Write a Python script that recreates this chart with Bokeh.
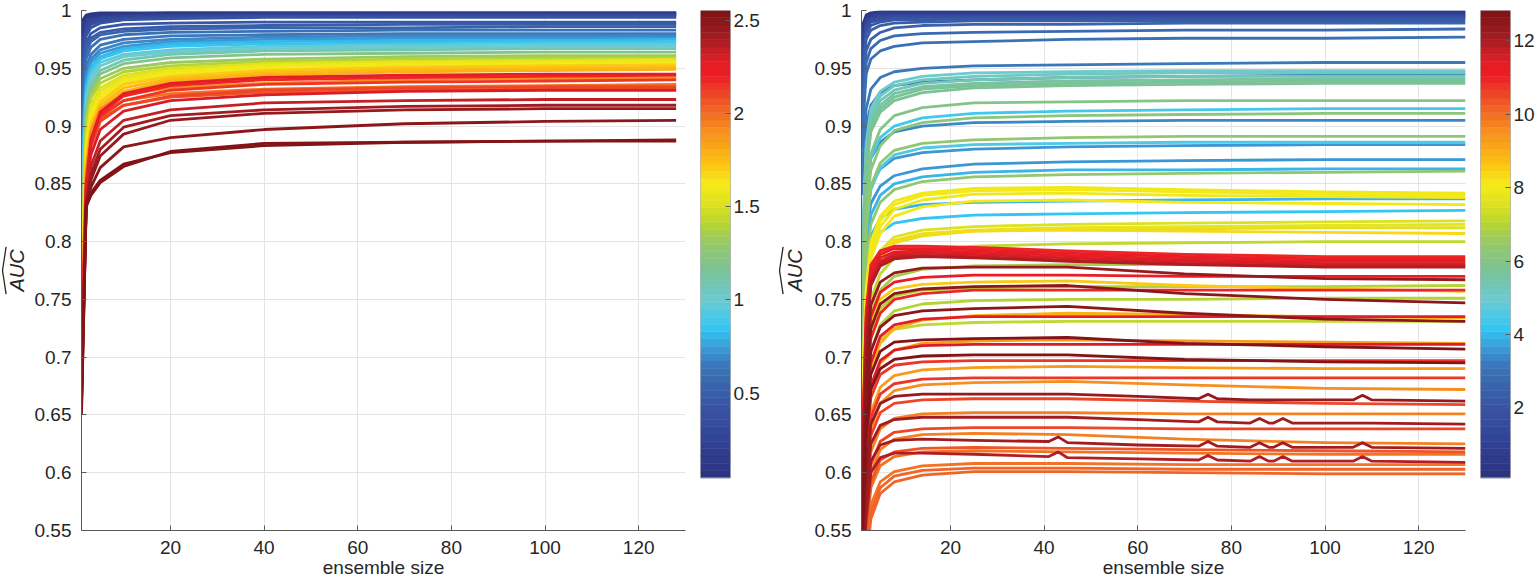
import numpy as np
from bokeh.plotting import figure
from bokeh.models import Range1d, FixedTicker, CustomJSTickFormatter, ColumnDataSource
from bokeh.layouts import row
from bokeh.transform import linear_cmap
from bokeh.core.properties import value
from bokeh.embed import file_html
from bokeh.resources import INLINE

# ---------------- data ----------------
X_TICKS = [20, 40, 60, 80, 100, 120]
Y_TICKS = [0.55, 0.6, 0.65, 0.7, 0.75, 0.8, 0.85, 0.9, 0.95, 1.0]
CB_TICKS_LEFT = [0.5, 1, 1.5, 2, 2.5]
CB_TICKS_RIGHT = [2, 4, 6, 8, 10, 12]
C_RANGE_LEFT = (0.045, 2.553)
C_RANGE_RIGHT = (0.09, 12.83)
Y_LABEL = "AUC"
X_LABEL = "ensemble size"

X_LEFT = [1, 2, 3, 5, 10, 20, 40, 70, 100, 128]
C_LEFT = [0.05, 0.1, 0.15, 0.2, 0.25, 0.3, 0.35, 0.4, 0.45, 0.5, 0.55, 0.6, 0.65,
          0.7, 0.75, 0.8, 0.85, 0.95, 1.0, 1.1, 1.2, 1.3, 1.4,
          1.5, 1.55, 1.6, 1.65, 1.7, 1.75, 1.8,
          1.9, 2.0, 2.05, 2.1, 2.15, 2.2, 2.25, 2.3,
          2.35, 2.4, 2.45, 2.5, 2.53, 2.55]
Y_LEFT = [
    [0.990, 0.996, 0.997, 0.998, 0.998, 0.998, 0.998, 0.998, 0.998, 0.998],
    [0.985, 0.994, 0.996, 0.997, 0.997, 0.998, 0.998, 0.998, 0.998, 0.998],
    [0.980, 0.993, 0.995, 0.996, 0.997, 0.997, 0.997, 0.997, 0.997, 0.997],
    [0.975, 0.990, 0.993, 0.995, 0.996, 0.996, 0.997, 0.997, 0.997, 0.997],
    [0.970, 0.988, 0.992, 0.994, 0.995, 0.996, 0.996, 0.996, 0.996, 0.996],
    [0.965, 0.985, 0.990, 0.993, 0.994, 0.995, 0.995, 0.996, 0.996, 0.996],
    [0.960, 0.982, 0.988, 0.991, 0.993, 0.994, 0.995, 0.995, 0.995, 0.995],
    [0.950, 0.978, 0.985, 0.989, 0.992, 0.993, 0.994, 0.994, 0.994, 0.994],
    [0.940, 0.972, 0.980, 0.985, 0.988, 0.989, 0.990, 0.990, 0.990, 0.990],
    [0.930, 0.968, 0.976, 0.981, 0.984, 0.986, 0.987, 0.988, 0.988, 0.988],
    [0.920, 0.964, 0.973, 0.979, 0.982, 0.984, 0.985, 0.985, 0.986, 0.986],
    [0.900, 0.958, 0.968, 0.975, 0.979, 0.981, 0.982, 0.983, 0.983, 0.983],
    [0.880, 0.950, 0.962, 0.970, 0.975, 0.978, 0.979, 0.980, 0.980, 0.980],
    [0.870, 0.945, 0.958, 0.966, 0.972, 0.975, 0.977, 0.978, 0.978, 0.978],
    [0.860, 0.940, 0.955, 0.963, 0.969, 0.973, 0.975, 0.976, 0.976, 0.976],
    [0.850, 0.935, 0.951, 0.960, 0.967, 0.971, 0.973, 0.974, 0.974, 0.975],
    [0.840, 0.930, 0.948, 0.958, 0.965, 0.969, 0.971, 0.972, 0.973, 0.973],
    [0.830, 0.925, 0.944, 0.955, 0.962, 0.966, 0.969, 0.970, 0.971, 0.971],
    [0.820, 0.920, 0.940, 0.952, 0.960, 0.964, 0.967, 0.968, 0.969, 0.969],
    [0.810, 0.915, 0.936, 0.948, 0.957, 0.962, 0.965, 0.966, 0.967, 0.967],
    [0.800, 0.910, 0.932, 0.945, 0.954, 0.959, 0.962, 0.963, 0.964, 0.964],
    [0.790, 0.905, 0.928, 0.941, 0.950, 0.955, 0.958, 0.960, 0.961, 0.961],
    [0.780, 0.900, 0.924, 0.937, 0.947, 0.952, 0.956, 0.958, 0.959, 0.959],
    [0.770, 0.890, 0.918, 0.933, 0.944, 0.950, 0.954, 0.956, 0.957, 0.958],
    [0.760, 0.885, 0.914, 0.930, 0.942, 0.948, 0.953, 0.955, 0.956, 0.957],
    [0.750, 0.880, 0.910, 0.927, 0.940, 0.947, 0.952, 0.954, 0.955, 0.956],
    [0.745, 0.875, 0.906, 0.924, 0.938, 0.945, 0.950, 0.952, 0.953, 0.954],
    [0.740, 0.870, 0.902, 0.921, 0.936, 0.943, 0.948, 0.951, 0.952, 0.953],
    [0.735, 0.865, 0.898, 0.918, 0.933, 0.941, 0.946, 0.949, 0.950, 0.951],
    [0.730, 0.860, 0.894, 0.915, 0.930, 0.939, 0.944, 0.947, 0.948, 0.949],
    [0.720, 0.860, 0.895, 0.915, 0.927, 0.933, 0.937, 0.940, 0.941, 0.942],
    [0.710, 0.855, 0.890, 0.910, 0.922, 0.928, 0.932, 0.934, 0.935, 0.936],
    [0.705, 0.850, 0.885, 0.906, 0.918, 0.925, 0.929, 0.931, 0.932, 0.933],
    [0.700, 0.845, 0.882, 0.904, 0.918, 0.926, 0.931, 0.933, 0.934, 0.934],
    [0.695, 0.845, 0.884, 0.908, 0.922, 0.931, 0.936, 0.938, 0.939, 0.940],
    [0.690, 0.845, 0.886, 0.910, 0.926, 0.935, 0.940, 0.942, 0.943, 0.944],
    [0.685, 0.850, 0.888, 0.912, 0.928, 0.937, 0.942, 0.944, 0.945, 0.945],
    [0.680, 0.840, 0.875, 0.897, 0.913, 0.922, 0.927, 0.930, 0.931, 0.931],
    [0.675, 0.835, 0.865, 0.887, 0.905, 0.914, 0.920, 0.922, 0.923, 0.923],
    [0.670, 0.833, 0.858, 0.880, 0.899, 0.909, 0.914, 0.917, 0.918, 0.918],
    [0.665, 0.832, 0.853, 0.874, 0.893, 0.905, 0.911, 0.914, 0.915, 0.915],
    [0.660, 0.832, 0.847, 0.864, 0.882, 0.890, 0.897, 0.902, 0.904, 0.905],
    [0.655, 0.831, 0.842, 0.853, 0.867, 0.877, 0.883, 0.886, 0.887, 0.887],
    [0.650, 0.830, 0.840, 0.851, 0.865, 0.878, 0.885, 0.886, 0.887, 0.888],
]

X_RIGHT = [1, 2, 3, 5, 8, 14, 25, 45, 70, 100, 130]
C_RIGHT = [0.3, 0.6, 0.9, 1.2, 1.5, 1.8, 2.1, 2.4, 2.6, 2.8, 3.0, 3.2, 3.1,
           5.0, 5.2, 5.4, 5.5, 5.7, 5.8, 6.0, 4.3, 6.2, 3.4, 6.3, 4.5, 3.5, 3.6, 4.0, 6.4,
           8.0, 8.2, 7.9, 3.9, 8.1, 4.1, 7.5, 7.7, 7.6, 8.4, 7.2,
           11.0, 11.2, 11.4, 11.6, 11.8, 12.0, 6.8, 12.3, 11.1, 8.5, 6.9, 12.5, 10.9, 7.0,
           12.6, 11.3, 9.0, 7.1, 12.7, 9.3, 11.5, 12.8, 10.8, 9.4, 10.7, 9.6, 10.6,
           9.7, 10.5, 9.8, 10.4, 9.9, 10.0, 10.1, 10.2]
Y_RIGHT = [
    [0.985, 0.996, 0.998, 0.999, 0.999, 0.999, 0.999, 0.999, 0.999, 0.999, 0.999],
    [0.980, 0.994, 0.997, 0.998, 0.998, 0.998, 0.998, 0.998, 0.998, 0.998, 0.998],
    [0.975, 0.992, 0.995, 0.997, 0.997, 0.997, 0.997, 0.997, 0.997, 0.997, 0.997],
    [0.965, 0.990, 0.994, 0.995, 0.996, 0.996, 0.996, 0.996, 0.996, 0.996, 0.996],
    [0.955, 0.987, 0.992, 0.994, 0.995, 0.995, 0.995, 0.995, 0.995, 0.995, 0.995],
    [0.945, 0.984, 0.990, 0.992, 0.993, 0.994, 0.994, 0.994, 0.994, 0.994, 0.994],
    [0.935, 0.980, 0.987, 0.990, 0.992, 0.992, 0.993, 0.993, 0.993, 0.993, 0.993],
    [0.920, 0.975, 0.983, 0.987, 0.989, 0.990, 0.991, 0.991, 0.991, 0.991, 0.991],
    [0.910, 0.965, 0.975, 0.981, 0.985, 0.987, 0.988, 0.988, 0.989, 0.989, 0.989],
    [0.895, 0.955, 0.967, 0.974, 0.978, 0.980, 0.981, 0.982, 0.983, 0.983, 0.984],
    [0.880, 0.945, 0.958, 0.965, 0.969, 0.972, 0.973, 0.975, 0.976, 0.976, 0.977],
    [0.850, 0.915, 0.932, 0.942, 0.947, 0.950, 0.952, 0.953, 0.954, 0.955, 0.955],
    [0.840, 0.900, 0.918, 0.929, 0.935, 0.938, 0.940, 0.942, 0.943, 0.944, 0.945],
    [0.780, 0.885, 0.915, 0.930, 0.938, 0.943, 0.946, 0.947, 0.948, 0.948, 0.948],
    [0.770, 0.880, 0.910, 0.926, 0.935, 0.940, 0.943, 0.945, 0.946, 0.946, 0.946],
    [0.760, 0.875, 0.906, 0.922, 0.931, 0.937, 0.940, 0.942, 0.943, 0.943, 0.943],
    [0.750, 0.870, 0.902, 0.918, 0.928, 0.934, 0.937, 0.939, 0.940, 0.941, 0.941],
    [0.745, 0.865, 0.898, 0.915, 0.925, 0.932, 0.935, 0.937, 0.938, 0.939, 0.939],
    [0.740, 0.860, 0.895, 0.912, 0.922, 0.929, 0.933, 0.935, 0.936, 0.937, 0.937],
    [0.720, 0.840, 0.876, 0.897, 0.909, 0.916, 0.920, 0.921, 0.922, 0.922, 0.922],
    [0.740, 0.840, 0.872, 0.890, 0.900, 0.907, 0.911, 0.913, 0.914, 0.915, 0.915],
    [0.710, 0.825, 0.862, 0.883, 0.896, 0.903, 0.907, 0.909, 0.910, 0.911, 0.911],
    [0.760, 0.845, 0.872, 0.886, 0.895, 0.900, 0.903, 0.904, 0.905, 0.905, 0.905],
    [0.700, 0.810, 0.848, 0.868, 0.879, 0.885, 0.888, 0.890, 0.891, 0.891, 0.891],
    [0.710, 0.810, 0.845, 0.864, 0.875, 0.881, 0.884, 0.885, 0.886, 0.886, 0.886],
    [0.730, 0.820, 0.848, 0.863, 0.872, 0.877, 0.880, 0.882, 0.883, 0.884, 0.884],
    [0.720, 0.805, 0.833, 0.848, 0.857, 0.863, 0.867, 0.869, 0.870, 0.871, 0.871],
    [0.700, 0.790, 0.823, 0.840, 0.850, 0.856, 0.860, 0.862, 0.862, 0.863, 0.863],
    [0.680, 0.780, 0.815, 0.834, 0.845, 0.852, 0.856, 0.858, 0.859, 0.860, 0.861],
    [0.660, 0.760, 0.800, 0.822, 0.835, 0.842, 0.846, 0.847, 0.845, 0.843, 0.842],
    [0.655, 0.755, 0.795, 0.818, 0.832, 0.840, 0.844, 0.845, 0.843, 0.841, 0.840],
    [0.650, 0.750, 0.790, 0.813, 0.828, 0.836, 0.841, 0.842, 0.840, 0.839, 0.838],
    [0.690, 0.775, 0.805, 0.820, 0.828, 0.832, 0.834, 0.835, 0.836, 0.837, 0.837],
    [0.645, 0.745, 0.785, 0.807, 0.822, 0.830, 0.835, 0.836, 0.834, 0.833, 0.832],
    [0.680, 0.760, 0.792, 0.808, 0.816, 0.820, 0.823, 0.824, 0.825, 0.826, 0.827],
    [0.640, 0.735, 0.772, 0.792, 0.804, 0.810, 0.813, 0.815, 0.816, 0.817, 0.818],
    [0.635, 0.730, 0.768, 0.789, 0.801, 0.807, 0.810, 0.812, 0.813, 0.814, 0.815],
    [0.630, 0.725, 0.764, 0.786, 0.799, 0.805, 0.809, 0.811, 0.811, 0.812, 0.812],
    [0.630, 0.720, 0.762, 0.785, 0.800, 0.806, 0.809, 0.810, 0.809, 0.808, 0.807],
    [0.620, 0.710, 0.750, 0.772, 0.786, 0.792, 0.796, 0.798, 0.799, 0.800, 0.800],
    [0.600, 0.740, 0.780, 0.792, 0.796, 0.796, 0.795, 0.792, 0.789, 0.787, 0.787],
    [0.590, 0.735, 0.776, 0.789, 0.794, 0.794, 0.793, 0.790, 0.787, 0.785, 0.785],
    [0.585, 0.730, 0.772, 0.786, 0.791, 0.792, 0.791, 0.788, 0.785, 0.783, 0.783],
    [0.580, 0.725, 0.768, 0.783, 0.789, 0.790, 0.789, 0.786, 0.783, 0.781, 0.781],
    [0.575, 0.720, 0.765, 0.781, 0.787, 0.788, 0.787, 0.784, 0.781, 0.779, 0.779],
    [0.570, 0.715, 0.762, 0.779, 0.785, 0.787, 0.786, 0.783, 0.780, 0.778, 0.778],
    [0.620, 0.700, 0.738, 0.758, 0.770, 0.776, 0.779, 0.780, 0.780, 0.780, 0.780],
    [0.560, 0.700, 0.745, 0.765, 0.773, 0.777, 0.778, 0.778, 0.772, 0.768, 0.767],
    [0.560, 0.690, 0.735, 0.756, 0.765, 0.769, 0.771, 0.771, 0.770, 0.770, 0.770],
    [0.600, 0.690, 0.730, 0.750, 0.759, 0.763, 0.765, 0.766, 0.762, 0.759, 0.757],
    [0.600, 0.680, 0.720, 0.742, 0.753, 0.758, 0.760, 0.761, 0.761, 0.761, 0.762],
    [0.550, 0.680, 0.725, 0.746, 0.755, 0.759, 0.761, 0.762, 0.755, 0.750, 0.747],
    [0.550, 0.670, 0.716, 0.738, 0.750, 0.755, 0.758, 0.758, 0.758, 0.758, 0.758],
    [0.590, 0.665, 0.705, 0.728, 0.740, 0.746, 0.749, 0.750, 0.750, 0.751, 0.751],
    [0.540, 0.660, 0.705, 0.726, 0.736, 0.740, 0.742, 0.744, 0.738, 0.733, 0.731],
    [0.540, 0.650, 0.695, 0.718, 0.728, 0.733, 0.735, 0.735, 0.735, 0.735, 0.735],
    [0.560, 0.645, 0.690, 0.712, 0.725, 0.732, 0.736, 0.738, 0.737, 0.735, 0.734],
    [0.580, 0.655, 0.695, 0.715, 0.724, 0.728, 0.730, 0.731, 0.731, 0.731, 0.731],
    [0.530, 0.640, 0.685, 0.705, 0.713, 0.715, 0.716, 0.717, 0.712, 0.709, 0.707],
    [0.540, 0.630, 0.672, 0.695, 0.706, 0.712, 0.714, 0.715, 0.714, 0.713, 0.712],
    [0.530, 0.630, 0.675, 0.697, 0.706, 0.710, 0.711, 0.711, 0.711, 0.711, 0.711],
    [0.520, 0.630, 0.672, 0.690, 0.698, 0.701, 0.702, 0.702, 0.698, 0.696, 0.695],
    [0.520, 0.620, 0.665, 0.685, 0.693, 0.696, 0.697, 0.697, 0.697, 0.697, 0.697],
    [0.530, 0.610, 0.652, 0.674, 0.684, 0.689, 0.691, 0.692, 0.691, 0.690, 0.690],
    [0.520, 0.605, 0.648, 0.668, 0.677, 0.681, 0.682, 0.682, 0.682, 0.682, 0.682],
    [0.520, 0.595, 0.638, 0.660, 0.671, 0.676, 0.678, 0.679, 0.676, 0.673, 0.672],
    [0.510, 0.590, 0.632, 0.652, 0.660, 0.663, 0.664, 0.664, 0.662, 0.660, 0.659],
    [0.510, 0.575, 0.618, 0.638, 0.647, 0.651, 0.652, 0.652, 0.651, 0.651, 0.651],
    [0.500, 0.565, 0.607, 0.627, 0.635, 0.638, 0.639, 0.639, 0.638, 0.638, 0.638],
    [0.500, 0.560, 0.600, 0.620, 0.629, 0.633, 0.634, 0.633, 0.629, 0.626, 0.625],
    [0.500, 0.550, 0.592, 0.611, 0.618, 0.621, 0.622, 0.621, 0.620, 0.619, 0.618],
    [0.500, 0.545, 0.587, 0.606, 0.614, 0.618, 0.619, 0.618, 0.617, 0.616, 0.616],
    [0.490, 0.530, 0.572, 0.592, 0.601, 0.606, 0.608, 0.608, 0.607, 0.607, 0.607],
    [0.490, 0.525, 0.566, 0.587, 0.597, 0.602, 0.604, 0.604, 0.603, 0.603, 0.603],
    [0.490, 0.520, 0.560, 0.582, 0.592, 0.598, 0.601, 0.601, 0.600, 0.599, 0.599],
]

# dark-red curves of the right panel, read more densely (they show small spikes)
X_RIGHT_DENSE = [1, 2, 3, 5, 8, 14, 25, 41, 43, 45, 60, 73, 75, 77,
                 84, 86, 88, 89, 91, 93, 106, 108, 110, 130]
C_RIGHT_DENSE = [12.4, 12.2, 12.1, 12.0]
Y_RIGHT_DENSE = [
    [0.510, 0.600, 0.642, 0.660, 0.666, 0.668, 0.668, 0.668, 0.668, 0.668, 0.666, 0.664,
     0.668, 0.664, 0.663, 0.663, 0.663, 0.663, 0.663, 0.663, 0.663, 0.667, 0.663, 0.662],
    [0.500, 0.585, 0.625, 0.641, 0.646, 0.648, 0.648, 0.648, 0.648, 0.648, 0.646, 0.644,
     0.648, 0.644, 0.643, 0.647, 0.643, 0.643, 0.647, 0.643, 0.643, 0.643, 0.643, 0.642],
    [0.500, 0.570, 0.610, 0.624, 0.628, 0.629, 0.628, 0.627, 0.631, 0.626, 0.624, 0.623,
     0.627, 0.623, 0.622, 0.626, 0.622, 0.622, 0.626, 0.622, 0.622, 0.626, 0.622, 0.621],
    [0.500, 0.560, 0.600, 0.613, 0.617, 0.617, 0.616, 0.614, 0.618, 0.613, 0.612, 0.611,
     0.615, 0.611, 0.610, 0.614, 0.610, 0.610, 0.614, 0.610, 0.610, 0.614, 0.610, 0.609],
]

# ---------------- colormap (style) ----------------
ANCHOR_POS = [0.0, 0.06, 0.16, 0.24, 0.28, 0.32, 0.38, 0.44, 0.50, 0.54, 0.58,
              0.63, 0.68, 0.74, 0.80, 0.86, 0.89, 0.94, 1.0]
ANCHOR_HEX = ["#2b3380", "#303e91", "#3856a4", "#3b76b9", "#3a9dd8", "#34c6f3",
              "#6ccbd2", "#79c39a", "#95c86a", "#b4d335", "#d9e021", "#f6eb17",
              "#fdbb12", "#f7901e", "#f05a28", "#ed1c24", "#e31e25", "#a41d22", "#7d1315"]


def make_palette(n=64):
    rgb = np.array([[int(h[i:i + 2], 16) for i in (1, 3, 5)] for h in ANCHOR_HEX], float)
    cols = []
    for t in (np.arange(n) + 0.5) / n:
        r, g, b = (np.interp(t, ANCHOR_POS, rgb[:, k]) for k in range(3))
        cols.append("#%02x%02x%02x" % (int(round(r)), int(round(g)), int(round(b))))
    return cols


PALETTE = make_palette(64)

FONT = "Liberation Sans"
TXT = "#262626"
AXC = "#5a5a5a"
H = 580
TOP = 10
BOT = 49
FS = "19px"
FMT = "return String(Math.round(tick*100)/100);"
CB_FRAC = 0.8987      # colour bar spans this fraction of the plot height (from the top)
LABEL_Y = 0.775       # vertical centre of the y label (data units)
HAT_HALF = 0.0205     # half width of the wide hat (data units)
HAT_DEPTH = 3.6       # depth of the wide hat (px)


def style_axes(p):
    for ax in p.axis:
        ax.major_tick_in = 5
        ax.major_tick_out = 0
        ax.minor_tick_line_color = None
        ax.axis_line_color = AXC
        ax.major_tick_line_color = AXC
        ax.major_label_text_font = FONT
        ax.major_label_text_font_size = FS
        ax.major_label_text_color = TXT


def label_fig(width, text_x, hat_x):
    p = figure(width=width, height=H, x_range=Range1d(0, width), y_range=Range1d(0.55, 1.0),
               x_axis_type=None, y_axis_type=None, output_backend="svg", toolbar_location=None,
               min_border_left=0, min_border_right=0, min_border_top=TOP, min_border_bottom=BOT)
    p.grid.visible = False
    p.outline_line_color = None
    p.text(x=[text_x], y=[LABEL_Y], text=[Y_LABEL], angle=np.pi / 2, text_align="center",
           text_baseline="middle", text_font=value(FONT), text_font_style="italic",
           text_font_size="20px", text_color=TXT)
    p.line(x=[hat_x + HAT_DEPTH, hat_x, hat_x + HAT_DEPTH],
           y=[LABEL_Y - HAT_HALF, LABEL_Y, LABEL_Y + HAT_HALF],
           line_color=TXT, line_width=1.3)
    return p


def panel(series, crange, width, mbl, mbr):
    series = sorted(series, key=lambda s: s[1])
    src = ColumnDataSource(dict(xs=[s[0] for s in series], c=[s[1] for s in series],
                                ys=[s[2] for s in series]))
    p = figure(width=width, height=H, x_range=Range1d(1, 130), y_range=Range1d(0.55, 1.0),
               output_backend="svg", toolbar_location=None,
               min_border_left=mbl, min_border_right=mbr, min_border_top=TOP, min_border_bottom=BOT)
    p.multi_line(xs="xs", ys="ys", source=src, line_width=2.8, line_join="round",
                 line_color=linear_cmap("c", PALETTE, crange[0], crange[1]))
    p.xaxis.ticker = FixedTicker(ticks=X_TICKS)
    p.yaxis.ticker = FixedTicker(ticks=Y_TICKS)
    p.yaxis.formatter = CustomJSTickFormatter(code=FMT)
    style_axes(p)
    p.xaxis.major_label_standoff = 10
    p.yaxis.major_label_standoff = 10
    p.xaxis.axis_label = X_LABEL
    p.xaxis.axis_label_standoff = 0
    p.xaxis.axis_label_text_font = FONT
    p.xaxis.axis_label_text_font_size = FS
    p.xaxis.axis_label_text_font_style = "normal"
    p.xaxis.axis_label_text_color = TXT
    p.grid.grid_line_color = "#e4e4e4"
    p.outline_line_color = None
    return p


def cbar(crange, ticks, width, mbl, mbr):
    lo, hi = crange
    y0 = hi - (hi - lo) / CB_FRAC
    edges = np.linspace(lo, hi, len(PALETTE) + 1)
    src = ColumnDataSource(dict(bottom=edges[:-1], top=edges[1:], color=PALETTE))
    p = figure(width=width, height=H, x_range=Range1d(0, 1), y_range=Range1d(y0, hi),
               x_axis_type=None, y_axis_location="right", output_backend="svg",
               toolbar_location=None, min_border_left=mbl, min_border_right=mbr,
               min_border_top=TOP, min_border_bottom=BOT)
    p.quad(left=0, right=1, bottom="bottom", top="top", fill_color="color",
           line_color="color", line_width=0.5, source=src)
    p.quad(left=[0], right=[1], bottom=[lo], top=[hi], fill_color=None,
           line_color="#8c8c8c", line_width=1)
    p.grid.visible = False
    p.yaxis.ticker = FixedTicker(ticks=ticks)
    p.yaxis.formatter = CustomJSTickFormatter(code=FMT)
    style_axes(p)
    p.yaxis.axis_line_color = None
    p.yaxis.major_label_standoff = 3
    p.outline_line_color = None
    return p


left_series = [(X_LEFT, c, y) for c, y in zip(C_LEFT, Y_LEFT)]
right_series = ([(X_RIGHT, c, y) for c, y in zip(C_RIGHT, Y_RIGHT)] +
                [(X_RIGHT_DENSE, c, y) for c, y in zip(C_RIGHT_DENSE, Y_RIGHT_DENSE)])

l1 = label_fig(30, 16, 2)
f1 = panel(left_series, C_RANGE_LEFT, 663, 51, 8)
c1 = cbar(C_RANGE_LEFT, CB_TICKS_LEFT, 77, 7, 40)
l2 = label_fig(40, 24, 9)
f2 = panel(right_series, C_RANGE_RIGHT, 663, 51, 8)
c2 = cbar(C_RANGE_RIGHT, CB_TICKS_RIGHT, 65, 7, 28)

layout = row(l1, f1, c1, l2, f2, c2)
open("out.html", "w").write(file_html(layout, INLINE))
